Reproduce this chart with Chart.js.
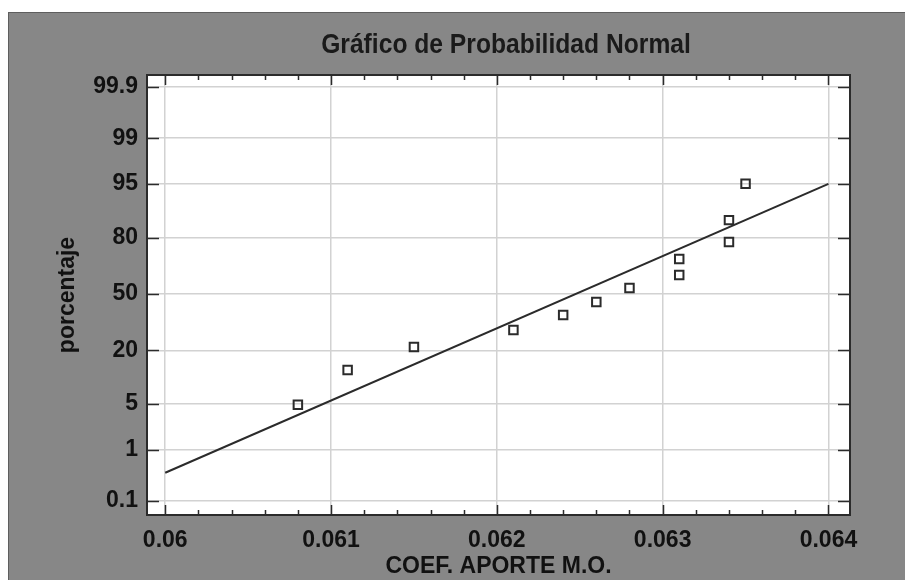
<!DOCTYPE html>
<html>
<head>
<meta charset="utf-8">
<script src="https://cdn.jsdelivr.net/npm/chart.js@4.4.1/dist/chart.umd.min.js"></script>
<style>
  html, body { margin: 0; padding: 0; background: #fff; }
  .chart-wrap { width: 905px; height: 580px; position: relative; }
</style>
</head>
<body>
<div class="chart-wrap"><canvas id="chart"></canvas></div>
<script>
// data
const coefValues = [0.0608, 0.0611, 0.0615, 0.0621, 0.0624, 0.0626, 0.0628, 0.0631, 0.0631, 0.0634, 0.0634, 0.0635];
const percentValues = [4.9, 12.8, 21.4, 29.6, 37.7, 45.3, 53.6, 61.2, 69.9, 78.1, 86.5, 95.0];
const fitX = [0.060, 0.064];
const fitPercent = [0.38, 95.0];
const yTickPercents = [0.1, 1, 5, 20, 50, 80, 95, 99, 99.9];
const yTickLabels = ['0.1', '1', '5', '20', '50', '80', '95', '99', '99.9'];
const xTicks = [0.060, 0.061, 0.062, 0.063, 0.064];
const xTickLabels = ['0.06', '0.061', '0.062', '0.063', '0.064'];
const xMinorTicks = [0.0602, 0.0604, 0.0606, 0.0608, 0.0612, 0.0614, 0.0616, 0.0618,
  0.0622, 0.0624, 0.0626, 0.0628, 0.0632, 0.0634, 0.0636, 0.0638];

// normal quantile (probability scale transform)
function probit(p) {
  const a = [-3.969683028665376e+01, 2.209460984245205e+02, -2.759285104469687e+02, 1.383577518672690e+02, -3.066479806614716e+01, 2.506628277459239e+00];
  const b = [-5.447609879822406e+01, 1.615858368580409e+02, -1.556989798598866e+02, 6.680131188771972e+01, -1.328068155922803e+01];
  const c = [-7.784894002430293e-03, -3.223964580411365e-01, -2.400758277161838e+00, -2.549732539343734e+00, 4.374664141464968e+00, 2.938163982698783e+00];
  const d = [7.784695709041462e-03, 3.224671290700398e-01, 2.445134137142996e+00, 3.754408661907416e+00];
  const plow = 0.02425;
  let q, r;
  if (p < plow) {
    q = Math.sqrt(-2 * Math.log(p));
    return (((((c[0]*q+c[1])*q+c[2])*q+c[3])*q+c[4])*q+c[5]) / ((((d[0]*q+d[1])*q+d[2])*q+d[3])*q+1);
  }
  if (p > 1 - plow) {
    q = Math.sqrt(-2 * Math.log(1 - p));
    return -(((((c[0]*q+c[1])*q+c[2])*q+c[3])*q+c[4])*q+c[5]) / ((((d[0]*q+d[1])*q+d[2])*q+d[3])*q+1);
  }
  q = p - 0.5; r = q * q;
  return (((((a[0]*r+a[1])*r+a[2])*r+a[3])*r+a[4])*r+a[5])*q / (((((b[0]*r+b[1])*r+b[2])*r+b[3])*r+b[4])*r+1);
}
const z = (pct) => probit(pct / 100);

const DARK = '#2b2b2b';
const FONT = '"Liberation Sans", Arial, sans-serif';

// gray panel, white plot box, title, frame and inward ticks
const framePlugin = {
  id: 'frame',
  beforeDraw(chart) {
    const { ctx, chartArea: a, width, height } = chart;
    ctx.save();
    ctx.fillStyle = '#ffffff';
    ctx.fillRect(0, 0, width, height);
    ctx.fillStyle = '#878787';
    ctx.fillRect(8, 12, width - 8, height - 12);
    ctx.strokeStyle = '#5e5e5e';
    ctx.lineWidth = 1;
    ctx.strokeRect(8.5, 12.5, width, height);
    ctx.fillStyle = '#ffffff';
    ctx.fillRect(a.left, a.top, a.right - a.left, a.bottom - a.top);
    ctx.restore();
  },
  afterDraw(chart) {
    const { ctx, chartArea: a } = chart;
    const xs = chart.scales.x, ys = chart.scales.y;
    ctx.save();
    // title
    ctx.fillStyle = '#1a1a1a';
    ctx.textAlign = 'center';
    ctx.textBaseline = 'alphabetic';
    ctx.font = 'bold 28px ' + FONT;
    ctx.translate(506, 53);
    ctx.scale(0.88, 1);
    ctx.fillText('Gráfico de Probabilidad Normal', 0, 0);
    ctx.restore();

    ctx.save();
    ctx.strokeStyle = DARK;
    ctx.lineWidth = 2;
    ctx.strokeRect(a.left, a.top, a.right - a.left, a.bottom - a.top);
    ctx.lineWidth = 1.5;
    ctx.beginPath();
    yTickPercents.forEach((p) => {
      const y = Math.round(ys.getPixelForValue(z(p))) + 0.5;
      ctx.moveTo(a.left, y); ctx.lineTo(a.left + 12, y);
      ctx.moveTo(a.right, y); ctx.lineTo(a.right - 12, y);
    });
    xTicks.forEach((v) => {
      const x = Math.round(xs.getPixelForValue(v)) + 0.5;
      ctx.moveTo(x, a.bottom); ctx.lineTo(x, a.bottom - 10);
      ctx.moveTo(x, a.top); ctx.lineTo(x, a.top + 10);
    });
    xMinorTicks.forEach((v) => {
      const x = Math.round(xs.getPixelForValue(v)) + 0.5;
      ctx.moveTo(x, a.bottom); ctx.lineTo(x, a.bottom - 5);
      ctx.moveTo(x, a.top); ctx.lineTo(x, a.top + 5);
    });
    ctx.stroke();
    ctx.restore();
  }
};

new Chart(document.getElementById('chart'), {
  type: 'scatter',
  data: {
    datasets: [
      {
        label: 'ajuste',
        type: 'line',
        data: fitX.map((x, i) => ({ x, y: z(fitPercent[i]) })),
        borderColor: DARK,
        borderWidth: 2,
        pointRadius: 0,
        fill: false,
      },
      {
        label: 'COEF. APORTE M.O.',
        data: coefValues.map((x, i) => ({ x, y: z(percentValues[i]) })),
        pointStyle: 'rect',
        pointRadius: 6,
        pointBorderWidth: 2,
        borderColor: DARK,
        backgroundColor: 'rgba(255,255,255,0)',
      },
    ],
  },
  options: {
    responsive: true,
    maintainAspectRatio: false,
    animation: false,
    layout: { padding: { left: 0, top: 75, right: 55, bottom: 0 } },
    plugins: {
      legend: { display: false },
      tooltip: { enabled: false },
    },
    scales: {
      x: {
        type: 'linear',
        min: 0.05989,
        max: 0.06413,
        afterBuildTicks: (s) => { s.ticks = xTicks.map((v) => ({ value: v })); },
        afterFit: (s) => { s.height = 65; },
        grid: { color: '#d2d2d2', lineWidth: 1.5, drawTicks: false },
        border: { display: false },
        ticks: {
          padding: 12,
          color: '#111',
          font: { family: FONT, size: 23, weight: 'bold' },
          callback: (v) => { const i = xTicks.findIndex((t) => Math.abs(t - v) < 1e-9); return i >= 0 ? xTickLabels[i] : ''; },
        },
        title: {
          display: true,
          text: 'COEF. APORTE M.O.',
          color: '#111',
          font: { family: FONT, size: 23, weight: 'bold' },
          padding: { top: 0, bottom: 0 },
        },
      },
      y: {
        type: 'linear',
        min: -3.30,
        max: 3.27,
        afterBuildTicks: (s) => { s.ticks = yTickPercents.map((p) => ({ value: z(p) })); },
        afterFit: (s) => { s.width = 147; },
        grid: { color: '#d2d2d2', lineWidth: 1.5, drawTicks: false },
        border: { display: false },
        ticks: {
          padding: 9,
          color: '#111',
          font: { family: FONT, size: 23, weight: 'bold' },
          callback: (v, i) => yTickLabels[i],
        },
        title: {
          display: true,
          text: 'porcentaje',
          color: '#111',
          font: { family: FONT, size: 23, weight: 'bold' },
          padding: { top: 54, bottom: 0 },
        },
      },
    },
  },
  plugins: [framePlugin],
});
</script>
</body>
</html>
